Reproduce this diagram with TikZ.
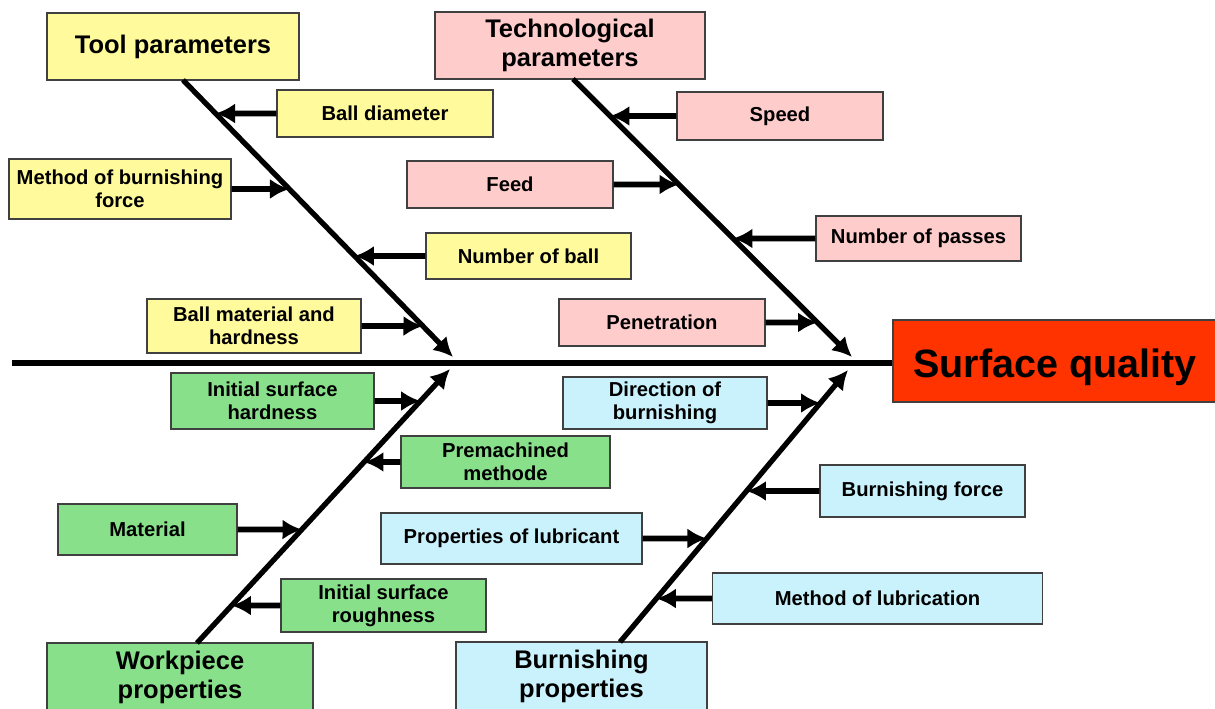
\documentclass[tikz,border=0pt]{standalone}
\usepackage{fontspec}
\setmainfont{Liberation Sans}
\usetikzlibrary{arrows.meta}

\definecolor{toolyellow}{HTML}{FFFA9C}
\definecolor{techpink}{HTML}{FFCCCC}
\definecolor{workgreen}{HTML}{88E08A}
\definecolor{burnblue}{HTML}{C9F2FC}
\definecolor{qualityred}{HTML}{FF3300}

\begin{document}
\begin{tikzpicture}
                    [x=0.02cm,y=-0.02cm,>={Latex[length=11pt,width=11.5pt]},
                     box/.style={draw=black!75,line width=0.8pt,align=center,inner sep=0pt,
                                 font=\bfseries\fontsize{11.5}{13}\selectfont},
                     head/.style={box,font=\bfseries\fontsize{14.5}{16.5}\selectfont},
                     bone/.style={line width=3pt,->},
                     cause/.style={line width=3.2pt,->}]

                \useasboundingbox (0,0) rectangle (1215,709);

                % heads of the bones
                \node[head,fill=toolyellow,minimum width=5.04cm,minimum height=1.34cm] (tool) at (173,46.5) {Tool parameters};
                \node[head,fill=techpink,minimum width=5.40cm,minimum height=1.34cm] (tech) at (570,45.5) {Technological\\parameters};
                \node[head,fill=workgreen,minimum width=5.32cm,minimum height=1.36cm] (work) at (180,677) {Workpiece\\properties};
                \node[head,fill=burnblue,minimum width=5.02cm,minimum height=1.38cm] (burn) at (581.5,676.5) {Burnishing\\properties};
                \node[box,fill=qualityred,minimum width=6.48cm,minimum height=1.64cm,text depth=0pt,
                      font=\bfseries\fontsize{22.5}{26}\selectfont] (surf) at (1055,361) {\raisebox{-3pt}{Surface quality}};

                % spine and bones
                \coordinate (s0) at (12,363);
                \draw[line width=3.2pt] (s0) -- (s0 -| surf.west);

                \coordinate (t1) at (183,80);   \coordinate (t2) at (453,357);
                \coordinate (c1) at (573,79);   \coordinate (c2) at (852,357);
                \coordinate (w1) at (197,643);  \coordinate (w2) at (450,369);
                \coordinate (b1) at (620,642);  \coordinate (b2) at (848,370);
                \draw[bone] (t1) -- (t2);
                \draw[bone] (c1) -- (c2);
                \draw[bone] (w1) -- (w2);
                \draw[bone] (b1) -- (b2);

                % tool parameters
                \node[box,fill=toolyellow,minimum width=4.32cm,minimum height=0.94cm] (bd) at (385,113.5) {Ball diameter};
                \node[box,fill=toolyellow,minimum width=4.44cm,minimum height=1.20cm] (mbf) at (120,189) {Method of burnishing\\force};
                \node[box,fill=toolyellow,minimum width=4.10cm,minimum height=0.92cm] (nb) at (528.5,256) {Number of ball};
                \node[box,fill=toolyellow,minimum width=4.28cm,minimum height=1.08cm] (bmh) at (254,326) {Ball material and\\hardness};

                % technological parameters
                \node[box,fill=techpink,minimum width=4.12cm,minimum height=0.96cm] (sp) at (780,116) {Speed};
                \node[box,fill=techpink,minimum width=4.12cm,minimum height=0.94cm] (fd) at (510,184.5) {Feed};
                \node[box,fill=techpink,minimum width=4.10cm,minimum height=0.90cm] (np) at (918.5,238.5) {Number of passes};
                \node[box,fill=techpink,minimum width=4.12cm,minimum height=0.94cm] (pen) at (662,322.5) {Penetration};

                % workpiece properties
                \node[box,fill=workgreen,minimum width=4.06cm,minimum height=1.12cm] (ish) at (272.5,401) {Initial surface\\hardness};
                \node[box,fill=workgreen,minimum width=4.18cm,minimum height=1.04cm] (pm) at (505.5,462) {Premachined\\methode};
                \node[box,fill=workgreen,minimum width=3.58cm,minimum height=1.02cm] (mat) at (147.5,529.5) {Material};
                \node[box,fill=workgreen,minimum width=4.10cm,minimum height=1.06cm] (isr) at (383.5,605.5) {Initial surface\\roughness};

                % burnishing properties
                \node[box,fill=burnblue,minimum width=4.08cm,minimum height=1.04cm] (dob) at (665,403) {Direction of\\burnishing};
                \node[box,fill=burnblue,minimum width=4.10cm,minimum height=1.04cm] (bf) at (922.5,491) {Burnishing force};
                \node[box,fill=burnblue,minimum width=5.22cm,minimum height=1.02cm] (pl) at (511.5,538.5) {Properties of lubricant};
                \node[box,fill=burnblue,minimum width=6.60cm,minimum height=1.02cm] (ml) at (877.5,598.5) {Method of lubrication};

                \draw[cause] (bd.west) -- (intersection of t1--t2 and bd.west--bd.east);
                \draw[cause] (mbf.east) -- (intersection of t1--t2 and mbf.west--mbf.east);
                \draw[cause] (nb.west) -- (intersection of t1--t2 and nb.west--nb.east);
                \draw[cause] (bmh.east) -- (intersection of t1--t2 and bmh.west--bmh.east);

                \draw[cause] (sp.west) -- (intersection of c1--c2 and sp.west--sp.east);
                \draw[cause] (fd.east) -- (intersection of c1--c2 and fd.west--fd.east);
                \draw[cause] (np.west) -- (intersection of c1--c2 and np.west--np.east);
                \draw[cause] (pen.east) -- (intersection of c1--c2 and pen.west--pen.east);

                \draw[cause] (ish.east) -- (intersection of w1--w2 and ish.west--ish.east);
                \draw[cause] (pm.west) -- (intersection of w1--w2 and pm.west--pm.east);
                \draw[cause] (mat.east) -- (intersection of w1--w2 and mat.west--mat.east);
                \draw[cause] (isr.west) -- (intersection of w1--w2 and isr.west--isr.east);

                \draw[cause] (dob.east) -- (intersection of b1--b2 and dob.west--dob.east);
                \draw[cause] (bf.west) -- (intersection of b1--b2 and bf.west--bf.east);
                \draw[cause] (pl.east) -- (intersection of b1--b2 and pl.west--pl.east);
                \draw[cause] (ml.west) -- (intersection of b1--b2 and ml.west--ml.east);

                \end{tikzpicture}
\end{document}
